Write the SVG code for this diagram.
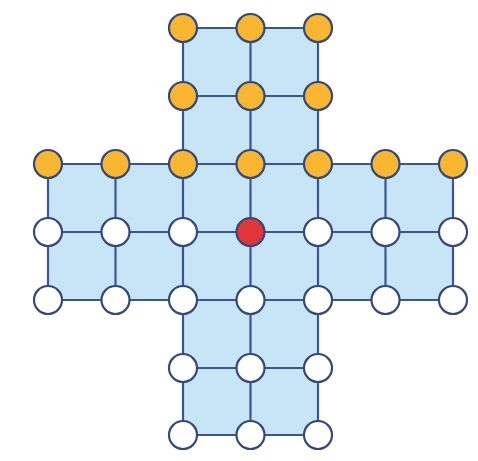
<svg xmlns="http://www.w3.org/2000/svg" width="478" height="461" viewBox="0 0 478 461">
<style>
.ln{stroke:#3a5595;stroke-width:2.2;fill:none}
.n{stroke:#34487a;stroke-width:2.2}
.o{fill:#f8b631}
.w{fill:#ffffff}
.r{fill:#e2353a}
</style>
<rect width="478" height="461" fill="#ffffff"/>
<polygon points="183,28 318,28 318,164 453,164 453,300 318,300 318,435 183,435 183,300 48,300 48,164 183,164" fill="#c7e5f6"/>
<g id="connectors">
<line class="ln" x1="183" y1="28" x2="318" y2="28"/>
<line class="ln" x1="183" y1="96" x2="318" y2="96"/>
<line class="ln" x1="48" y1="164" x2="453" y2="164"/>
<line class="ln" x1="48" y1="232" x2="453" y2="232"/>
<line class="ln" x1="48" y1="300" x2="453" y2="300"/>
<line class="ln" x1="183" y1="368" x2="318" y2="368"/>
<line class="ln" x1="183" y1="435" x2="318" y2="435"/>
<line class="ln" x1="48" y1="164" x2="48" y2="300"/>
<line class="ln" x1="115.5" y1="164" x2="115.5" y2="300"/>
<line class="ln" x1="183" y1="28" x2="183" y2="435"/>
<line class="ln" x1="250.5" y1="28" x2="250.5" y2="435"/>
<line class="ln" x1="318" y1="28" x2="318" y2="435"/>
<line class="ln" x1="385.5" y1="164" x2="385.5" y2="300"/>
<line class="ln" x1="453" y1="164" x2="453" y2="300"/>
</g>
<g id="n-c2-r0"><circle class="n o" cx="183" cy="28" r="14"/></g>
<g id="n-c3-r0"><circle class="n o" cx="250.5" cy="28" r="14"/></g>
<g id="n-c4-r0"><circle class="n o" cx="318" cy="28" r="14"/></g>
<g id="n-c2-r1"><circle class="n o" cx="183" cy="96" r="14"/></g>
<g id="n-c3-r1"><circle class="n o" cx="250.5" cy="96" r="14"/></g>
<g id="n-c4-r1"><circle class="n o" cx="318" cy="96" r="14"/></g>
<g id="n-c0-r2"><circle class="n o" cx="48" cy="164" r="14"/></g>
<g id="n-c1-r2"><circle class="n o" cx="115.5" cy="164" r="14"/></g>
<g id="n-c2-r2"><circle class="n o" cx="183" cy="164" r="14"/></g>
<g id="n-c3-r2"><circle class="n o" cx="250.5" cy="164" r="14"/></g>
<g id="n-c4-r2"><circle class="n o" cx="318" cy="164" r="14"/></g>
<g id="n-c5-r2"><circle class="n o" cx="385.5" cy="164" r="14"/></g>
<g id="n-c6-r2"><circle class="n o" cx="453" cy="164" r="14"/></g>
<g id="n-c0-r3"><circle class="n w" cx="48" cy="232" r="14"/></g>
<g id="n-c1-r3"><circle class="n w" cx="115.5" cy="232" r="14"/></g>
<g id="n-c2-r3"><circle class="n w" cx="183" cy="232" r="14"/></g>
<g id="n-c3-r3"><circle class="n r" cx="250.5" cy="232" r="14"/></g>
<g id="n-c4-r3"><circle class="n w" cx="318" cy="232" r="14"/></g>
<g id="n-c5-r3"><circle class="n w" cx="385.5" cy="232" r="14"/></g>
<g id="n-c6-r3"><circle class="n w" cx="453" cy="232" r="14"/></g>
<g id="n-c0-r4"><circle class="n w" cx="48" cy="300" r="14"/></g>
<g id="n-c1-r4"><circle class="n w" cx="115.5" cy="300" r="14"/></g>
<g id="n-c2-r4"><circle class="n w" cx="183" cy="300" r="14"/></g>
<g id="n-c3-r4"><circle class="n w" cx="250.5" cy="300" r="14"/></g>
<g id="n-c4-r4"><circle class="n w" cx="318" cy="300" r="14"/></g>
<g id="n-c5-r4"><circle class="n w" cx="385.5" cy="300" r="14"/></g>
<g id="n-c6-r4"><circle class="n w" cx="453" cy="300" r="14"/></g>
<g id="n-c2-r5"><circle class="n w" cx="183" cy="368" r="14"/></g>
<g id="n-c3-r5"><circle class="n w" cx="250.5" cy="368" r="14"/></g>
<g id="n-c4-r5"><circle class="n w" cx="318" cy="368" r="14"/></g>
<g id="n-c2-r6"><circle class="n w" cx="183" cy="435" r="14"/></g>
<g id="n-c3-r6"><circle class="n w" cx="250.5" cy="435" r="14"/></g>
<g id="n-c4-r6"><circle class="n w" cx="318" cy="435" r="14"/></g>
</svg>
